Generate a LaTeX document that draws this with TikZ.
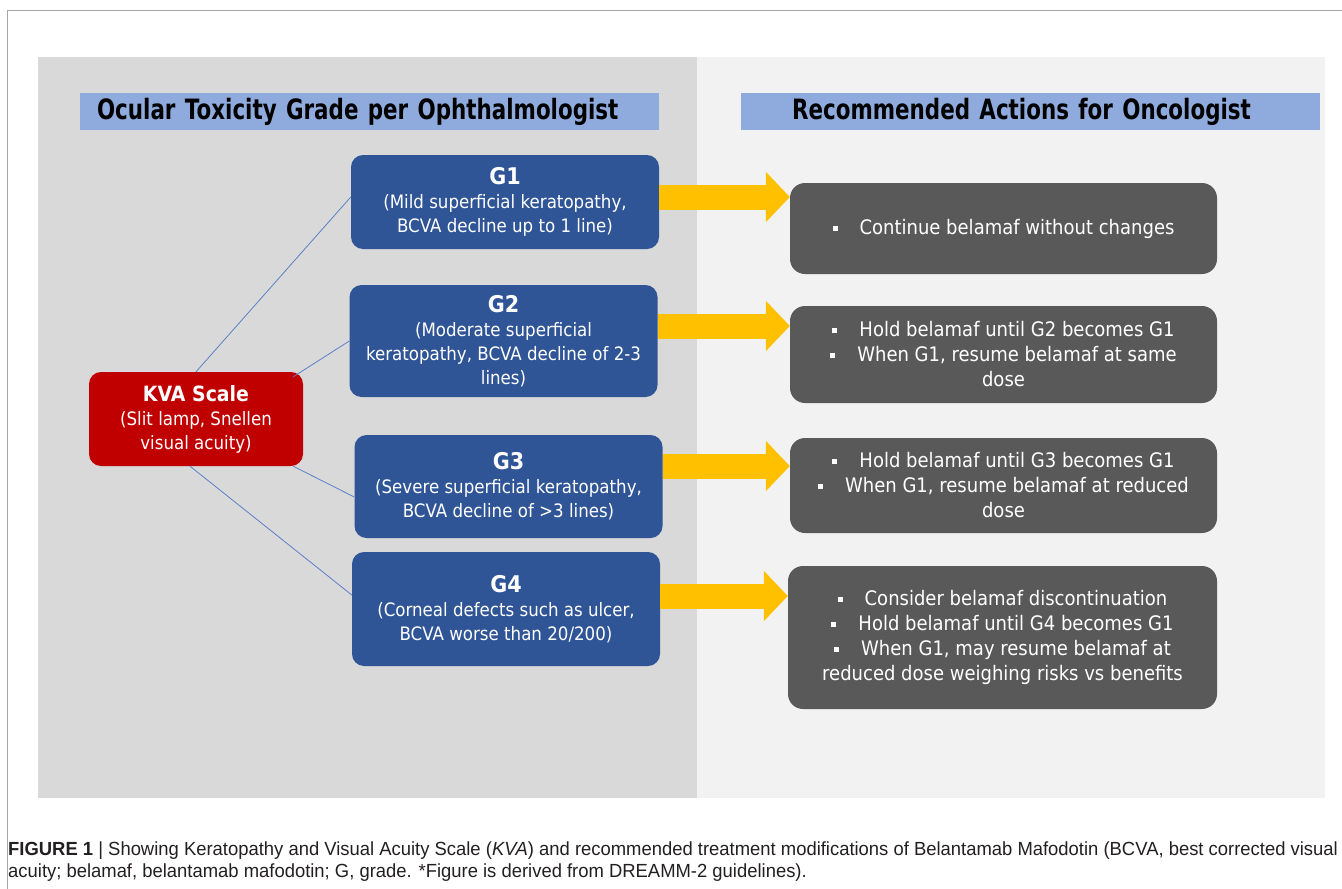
\documentclass[tikz,border=0pt]{standalone}
\usepackage{fontspec}
\setmainfont{DejaVu Sans}[FakeStretch=0.9]
\newfontfamily\headfont{DejaVu Sans}[FakeStretch=0.765]
\newfontfamily\capfont{Liberation Sans}[FakeStretch=0.97]
\usetikzlibrary{arrows.meta,positioning}

\definecolor{leftgray}{HTML}{D9D9D9}
\definecolor{rightgray}{HTML}{F2F2F2}
\definecolor{headblue}{HTML}{8FAADC}
\definecolor{gradeblue}{HTML}{2F5597}
\definecolor{kvared}{HTML}{C00000}
\definecolor{actiongray}{HTML}{595959}
\definecolor{arrowgold}{HTML}{FFC000}
\definecolor{linkblue}{HTML}{5B80C8}
\definecolor{framegray}{HTML}{A6A6A6}
\definecolor{captext}{HTML}{231F20}

\def\gradewd{308pt}
\def\actionwd{427pt}
\newcommand\bul{\raisebox{0.32ex}{\rule{5pt}{5pt}}\hspace{22pt}}
\newcommand\gtitle[1]{{\fontsize{23}{26}\selectfont\bfseries #1}}

\begin{document}
\begin{tikzpicture}[x=1pt,y=-1pt,font=\fontsize{18.5}{24}\selectfont]
    \tikzstyle{head}=[rectangle,fill=headblue,minimum width=579pt,minimum height=37pt,inner sep=0pt,font=\headfont\bfseries\fontsize{28}{30}\selectfont]
    \tikzstyle{grade}=[rectangle,rounded corners=12pt,fill=gradeblue,text=white,minimum width=\gradewd,align=center,inner sep=0pt]
    \tikzstyle{kva}=[grade,fill=kvared,minimum width=214pt,minimum height=94pt]
    \tikzstyle{action}=[rectangle,rounded corners=15pt,fill=actiongray,text=white,minimum width=\actionwd,align=center,inner sep=0pt,font=\fontsize{20}{25}\selectfont]
    \tikzstyle{link}=[draw=linkblue,line width=0.8pt]
    \tikzstyle{push}=[draw=arrowgold,line width=25pt,-{Triangle[length=24pt,width=49pt]}]

    \useasboundingbox (0,0) rectangle (1342,889);

    % Outer frame and the two panels
    \draw[framegray,line width=1pt] (7,889) -- (7,10) -- (1342,10);
    \fill[leftgray] (38,57) rectangle (697,798);
    \fill[rightgray] (697,57) rectangle (1325,798);

    % Column headings
    \node[head,text width=545pt,align=left] (hL) at (369.5,111.5) {Ocular Toxicity Grade per Ophthalmologist};
    \node[head,text width=545pt,align=center] (hR) at (1030.5,111.5) {\hspace*{-18pt}Recommended Actions for Oncologist};

    % Scale node
    \node[kva] (K) at (196,419) {{\fontsize{21}{25}\selectfont\bfseries KVA Scale}\\(Slit lamp, Snellen\\visual acuity)};

    % Grade nodes
    \node[grade,minimum height=94pt] (G1) at (505,202) {\gtitle{G1}\\(Mild superficial keratopathy,\\BCVA decline up to 1 line)};
    \node[grade,minimum height=112pt] (G2) at (503.5,341) {\gtitle{G2}\\(Moderate superficial\\keratopathy, BCVA decline of 2-3\\lines)};
    \node[grade,minimum height=103pt] (G3) at (508.5,486.5) {\gtitle{G3}\\(Severe superficial keratopathy,\\BCVA decline of >3 lines)};
    \node[grade,minimum height=114pt] (G4) at (506,609) {\gtitle{G4}\\(Corneal defects such as ulcer,\\BCVA worse than 20/200)};

    % Action nodes
    \node[action,minimum height=91pt] (A1) at (1003.5,228.5) {\bul Continue belamaf without changes};
    \node[action,minimum height=97pt] (A2) at (1003.5,354.5) {\bul Hold belamaf until G2 becomes G1\\\bul When G1, resume belamaf at same\\dose};
    \node[action,minimum height=95pt] (A3) at (1003.5,485.5) {\bul Hold belamaf until G3 becomes G1\\\bul When G1, resume belamaf at reduced\\dose};
    \node[action,minimum height=143pt,minimum width=429pt] (A4) at (1002.5,637.5) {\bul Consider belamaf discontinuation\\\bul Hold belamaf until G4 becomes G1\\\bul When G1, may resume belamaf at\\reduced dose weighing risks vs benefits};

    % Connect the scale with every grade
    \path[link] (K.north) -- (G1.west |- 0,197);
    \path[link] ([xshift=-10pt,yshift=-5pt]K.north east) -- (G2.west);
    \path[link] ([xshift=-10pt]K.south east) -- (G3.west |- 0,497);
    \path[link] ([xshift=-6pt]K.south) -- (G4.west |- 0,595);

    % Grade to action arrows
    \draw[push] (G1.east |- 0,197) -- (A1.west |- 0,197);
    \draw[push] (G2.east |- 0,326) -- (A2.west |- 0,326);
    \draw[push] (G3.east |- 0,466) -- (A3.west |- 0,466);
    \draw[push] (G4.east |- 0,596) -- (A4.west |- 0,596);

    % Caption
    \node[anchor=north west,align=left,inner sep=0pt,text=captext,font=\capfont\fontsize{19}{21.5}\selectfont] (cap) at (8,842)
        {{\bfseries FIGURE 1} | Showing Keratopathy and Visual Acuity Scale (\textit{KVA}) and recommended treatment modifications of Belantamab Mafodotin (BCVA, best corrected visual\\acuity; belamaf, belantamab mafodotin; G, grade. *Figure is derived from DREAMM-2 guidelines).};
\end{tikzpicture}
\end{document}
